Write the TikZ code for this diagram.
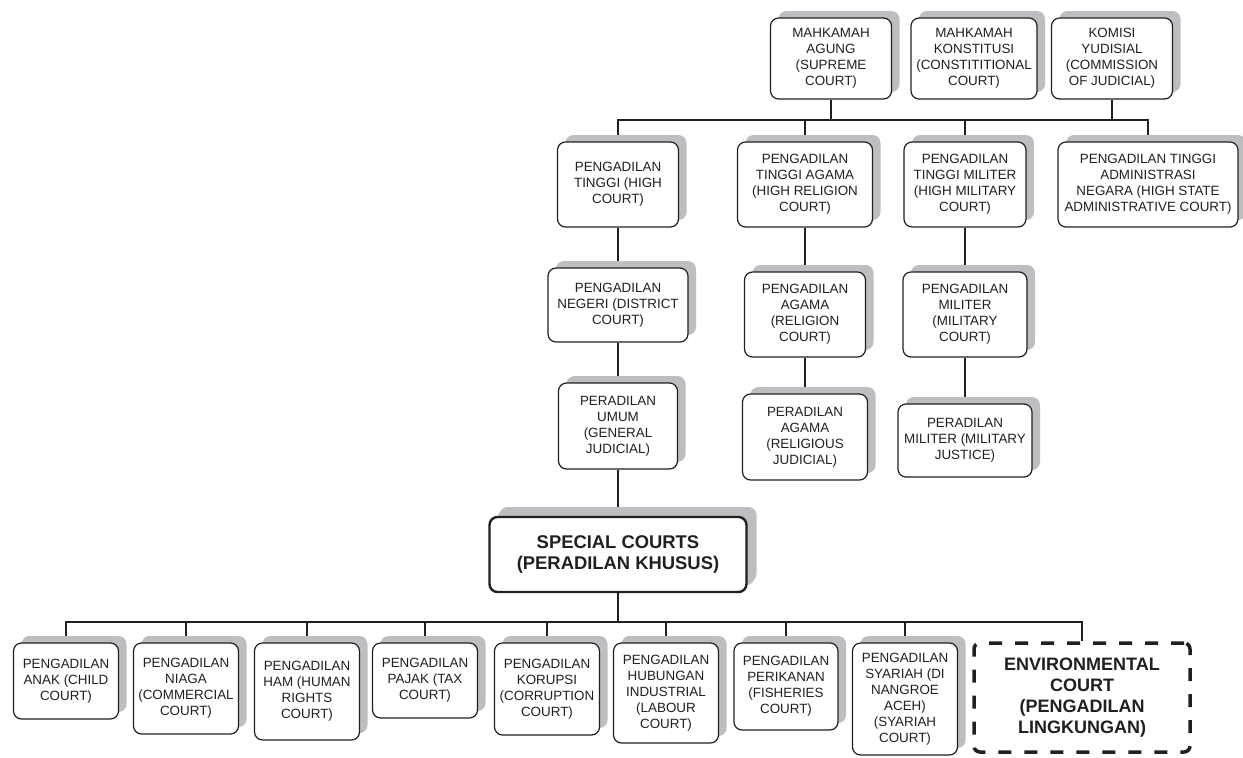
\documentclass[tikz,border=0pt]{standalone}
\usepackage{fontspec}
\setmainfont{Liberation Sans}
\usepackage{tikz}
\usetikzlibrary{shadows, backgrounds}
\definecolor{shadowgray}{RGB}{189, 190, 193}
\definecolor{inkblack}{RGB}{35, 31, 32}

\begin{document}
\begin{tikzpicture}[x=1pt, y=-1pt,
  court/.style 2 args={draw=inkblack, fill=white, rounded corners=8pt, line width=1.2pt, minimum width=#1, minimum height=#2, inner sep=0pt, align=center, text=inkblack, font=\fontsize{13.4}{16}\selectfont, drop shadow={shadow xshift=8pt, shadow yshift=7pt, fill=shadowgray, opacity=1}},
  special/.style={court={257pt}{75pt}, line width=2.4pt, font=\fontsize{18.4}{21.5}\selectfont\bfseries, drop shadow={shadow xshift=10pt, shadow yshift=10pt, fill=shadowgray, opacity=1}},
  envcourt/.style={draw=inkblack, fill=white, rounded corners=6pt, line width=3.5pt, dash pattern=on 13pt off 13pt, minimum width=216pt, minimum height=109pt, inner sep=0pt, align=center, text=inkblack, font=\fontsize{18}{21}\selectfont\bfseries},
  link/.style={draw=inkblack, line width=1.1pt},
]
  \useasboundingbox (0,0) rectangle (1243,758);

  % Top level
  \node[court={121pt}{81pt}] (ma) at (831, 58.5) {MAHKAMAH\\AGUNG\\(SUPREME\\COURT)};
  \node[court={126pt}{81pt}] (mk) at (974, 58.5) {MAHKAMAH\\KONSTITUSI\\(CONSTITITIONAL\\COURT)};
  \node[court={121pt}{81pt}] (ky) at (1112, 58.5) {KOMISI\\YUDISIAL\\(COMMISSION\\OF JUDICIAL)};

  % High courts
  \node[court={121pt}{85pt}] (pt) at (618, 184.5) {PENGADILAN\\TINGGI (HIGH\\COURT)};
  \node[court={135pt}{85pt}] (pta) at (805, 184.5) {PENGADILAN\\TINGGI AGAMA\\(HIGH RELIGION\\COURT)};
  \node[court={122pt}{85pt}] (ptm) at (965, 184.5) {PENGADILAN\\TINGGI MILITER\\(HIGH MILITARY\\COURT)};
  \node[court={180pt}{85pt}] (ptan) at (1148, 184.5) {PENGADILAN TINGGI\\ADMINISTRASI\\NEGARA (HIGH STATE\\ADMINISTRATIVE COURT)};

  % First instance
  \node[court={140pt}{74pt}] (pn) at (618, 305) {PENGADILAN\\NEGERI (DISTRICT\\COURT)};
  \node[court={121pt}{85pt}] (pa) at (805, 314.5) {PENGADILAN\\AGAMA\\(RELIGION\\COURT)};
  \node[court={124pt}{85pt}] (pm) at (965, 314.5) {PENGADILAN\\MILITER\\(MILITARY\\COURT)};

  % Judicial branches
  \node[court={119pt}{86pt}] (pu) at (618, 426) {PERADILAN\\UMUM\\(GENERAL\\JUDICIAL)};
  \node[court={125pt}{86pt}] (pra) at (805, 437) {PERADILAN\\AGAMA\\(RELIGIOUS\\JUDICIAL)};
  \node[court={134pt}{73pt}] (prm) at (965, 440.5) {PERADILAN\\MILITER (MILITARY\\JUSTICE)};

  % Special courts
  \node[special] (sc) at (618, 554.5) {SPECIAL COURTS\\(PERADILAN KHUSUS)};

  \node[court={105pt}{76pt}] (anak) at (66, 681) {PENGADILAN\\ANAK (CHILD\\COURT)};
  \node[court={105pt}{91pt}] (niaga) at (186, 688.5) {PENGADILAN\\NIAGA\\(COMMERCIAL\\COURT)};
  \node[court={105pt}{97pt}] (ham) at (307, 691.5) {PENGADILAN\\HAM (HUMAN\\RIGHTS\\COURT)};
  \node[court={105pt}{75pt}] (pajak) at (425, 680.5) {PENGADILAN\\PAJAK (TAX\\COURT)};
  \node[court={105pt}{92pt}] (korupsi) at (547, 689) {PENGADILAN\\KORUPSI\\(CORRUPTION\\COURT)};
  \node[court={105pt}{100pt}] (hubungan) at (666, 693) {PENGADILAN\\HUBUNGAN\\INDUSTRIAL\\(LABOUR\\COURT)};
  \node[court={104pt}{87pt}] (perikanan) at (786, 686.5) {PENGADILAN\\PERIKANAN\\(FISHERIES\\COURT)};
  \node[court={105pt}{112pt}] (syariah) at (905, 699) {PENGADILAN\\SYARIAH (DI\\NANGROE\\ACEH)\\(SYARIAH\\COURT)};
  \node[envcourt] (env) at (1082, 697.5) {ENVIRONMENTAL\\COURT\\(PENGADILAN\\LINGKUNGAN)};

  % Connectors
  \coordinate (topbus) at (618, 120);
  \coordinate (lowbus) at (618, 622);
  \begin{scope}[on background layer]
    \draw[link] (pt.north) |- (topbus -| ptan.north) -- (ptan.north);
    \foreach \n in {ma, ky} \draw[link] (\n) -- (\n.south |- topbus);
    \foreach \n in {pta, ptm} \draw[link] (\n) -- (\n.north |- topbus);
    \draw[link] (pt) -- (pn) -- (pu) -- (sc);
    \draw[link] (pta) -- (pa) -- (pra);
    \draw[link] (ptm) -- (pm) -- (prm);
    \draw[link] (sc) -- (lowbus);
    \draw[link] (anak.north) |- (lowbus -| env.north) -- (env.north);
    \foreach \n in {niaga, ham, pajak, korupsi, hubungan, perikanan, syariah} \draw[link] (\n) -- (\n.north |- lowbus);
  \end{scope}
\end{tikzpicture}
\end{document}
